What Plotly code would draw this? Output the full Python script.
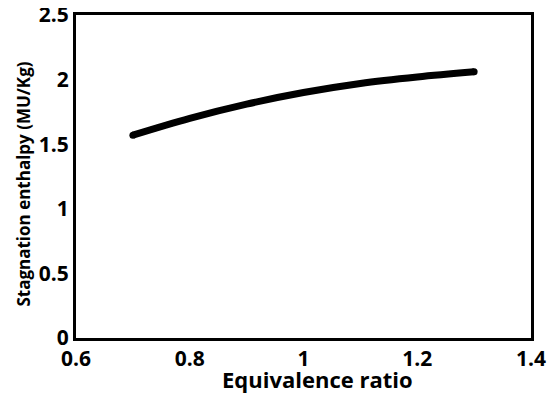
import plotly.graph_objects as go

equivalence_ratio = [0.7, 0.8, 0.9, 1.0, 1.1, 1.2, 1.3]
stagnation_enthalpy = [1.57, 1.70, 1.81, 1.90, 1.97, 2.02, 2.06]

x_ticks = [0.6, 0.8, 1.0, 1.2, 1.4]
x_tick_labels = ["0.6", "0.8", "1", "1.2", "1.4"]
y_ticks = [0, 0.5, 1.0, 1.5, 2.0, 2.5]
y_tick_labels = ["0", "0.5", "1", "1.5", "2", "2.5"]

x_title = "Equivalence ratio"
y_title = "Stagnation enthalpy (MU/Kg)"

FONT = "Open Sans, DejaVu Sans, sans-serif"

fig = go.Figure()
fig.add_trace(go.Scatter(
    x=equivalence_ratio, y=stagnation_enthalpy, mode="lines",
    line=dict(color="black", width=7, shape="spline"),
    showlegend=False, hoverinfo="skip",
))
fig.add_trace(go.Scatter(
    x=[equivalence_ratio[0], equivalence_ratio[-1]],
    y=[stagnation_enthalpy[0], stagnation_enthalpy[-1]],
    mode="markers", marker=dict(color="black", size=7),
    showlegend=False, hoverinfo="skip",
))

# page body has an 8px default margin; figure is sized to fill the remaining window
fig.update_layout(
    width=550, height=388,
    margin=dict(l=68, r=27, t=7, b=58),
    paper_bgcolor="white", plot_bgcolor="white",
    font=dict(family=FONT, color="black"),
    annotations=[
        dict(text="<b>%s</b>" % x_title, xref="paper", yref="paper",
             x=0.5308, y=-0.127, xanchor="center", yanchor="middle",
             showarrow=False, font=dict(family=FONT, size=22, color="black")),
        dict(text="<b>%s</b>" % y_title, xref="paper", yref="paper",
             x=-0.1143, y=0.478, xanchor="center", yanchor="middle", textangle=-90,
             showarrow=False, font=dict(family=FONT, size=17, color="black")),
    ],
)
fig.update_xaxes(
    range=[0.6, 1.4], tickvals=x_ticks, ticktext=x_tick_labels,
    showgrid=False, zeroline=False, ticks="", automargin=False,
    ticklabeloverflow="allow",
    showline=True, linecolor="black", linewidth=3, mirror=True,
    tickfont=dict(family=FONT, size=21, color="black", weight="bold"),
)
fig.update_yaxes(
    range=[0, 2.5], tickvals=y_ticks, ticktext=y_tick_labels,
    showgrid=False, zeroline=False, ticks="", automargin=False,
    ticklabeloverflow="allow",
    showline=True, linecolor="black", linewidth=3, mirror=True,
    tickfont=dict(family=FONT, size=21, color="black", weight="bold"),
)

fig.write_html("out.html")
